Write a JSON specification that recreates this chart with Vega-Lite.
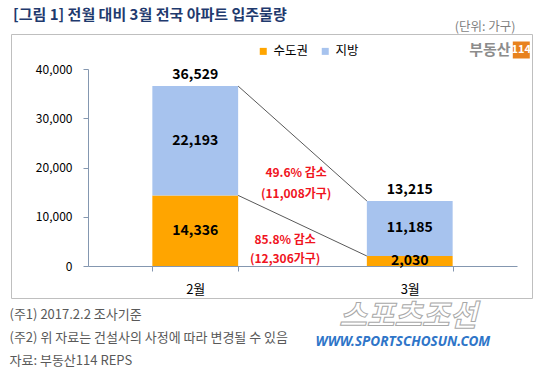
{
  "$schema": "https://vega.github.io/schema/vega-lite/v6.json",
  "width": 521,
  "height": 264,
  "autosize": {"type": "none"},
  "padding": {"left": 11, "top": 34, "right": 8, "bottom": 71},
  "background": "white",
  "config": {
    "font": "Noto Sans CJK KR",
    "view": {"stroke": "#BFBFBF", "strokeWidth": 1},
    "axisY": {"labelExpr": "format(datum.value, ',')"}
  },
  "title": {
    "text": "[그림 1] 전월 대비 3월 전국 아파트 입주물량",
    "anchor": "start",
    "frame": "group",
    "fontSize": 15,
    "fontWeight": "bold",
    "color": "#1F3A6E",
    "dx": 2,
    "dy": 10,
    "offset": 0,
    "baseline": "middle"
  },
  "datasets": {
    "main": [
      {"month": "2월", "region": "수도권", "value": 14336},
      {"month": "2월", "region": "지방", "value": 22193},
      {"month": "3월", "region": "수도권", "value": 2030},
      {"month": "3월", "region": "지방", "value": 11185}
    ],
    "links": [
      {"from": "2월", "to": "3월", "start": 36529, "end": 13215},
      {"from": "2월", "to": "3월", "start": 14336, "end": 2030}
    ]
  },
  "layer": [
    {
      "data": {"name": "main"},
      "mark": {"type": "bar"},
      "encoding": {
        "x": {
          "field": "month",
          "type": "nominal",
          "scale": {"range": [77, 506], "paddingInner": 0.6, "paddingOuter": 0.3},
          "axis": {
            "title": ["(주1) 2017.2.2  조사기준", "(주2) 위 자료는 건설사의 사정에 따라 변경될 수 있음", "자료: 부동산114  REPS"],
            "labelAngle": 0,
            "offset": -32,
            "tickBand": "extent",
            "domainColor": "#8497B0",
            "tickColor": "#8497B0",
            "tickSize": 5,
            "labelFontSize": 13,
            "labelColor": "#000000",
            "labelPadding": 12,
            "titleX": -2,
            "titleY": 42,
            "titleAnchor": "start",
            "titleAlign": "left",
            "titleBaseline": "top",
            "titleFontSize": 13,
            "titleFontWeight": "normal",
            "titleColor": "#595959",
            "titleLineHeight": 23
          }
        },
        "y": {
          "field": "value",
          "type": "quantitative",
          "stack": "zero",
          "scale": {"domain": [0, 40000], "range": [232, 35], "nice": false},
          "axis": {
            "title": "(단위: 가구)",
            "offset": -77,
            "values": [0, 10000, 20000, 30000, 40000],
            "labelExpr": "format(datum.value, ',')",
            "grid": false,
            "domainColor": "#8497B0",
            "tickColor": "#8497B0",
            "tickSize": 5,
            "labelFontSize": 12,
            "labelColor": "#000000",
            "labelPadding": 11,
            "titleAngle": 0,
            "titleX": 427,
            "titleY": -8,
            "titleAlign": "right",
            "titleBaseline": "middle",
            "titleFontSize": 12.5,
            "titleFontWeight": "normal",
            "titleColor": "#7F7F7F"
          }
        },
        "order": {"field": "region", "sort": "ascending"},
        "color": {
          "field": "region",
          "type": "nominal",
          "scale": {"domain": ["수도권", "지방"], "range": ["#FFA500", "#A7C3EE"]},
          "legend": {
            "title": null,
            "orient": "none",
            "direction": "horizontal",
            "legendX": 246,
            "legendY": 11,
            "symbolType": "square",
            "symbolSize": 49,
            "symbolStrokeWidth": 0,
            "labelFontSize": 12.5,
            "labelColor": "#000000",
            "labelOffset": 4,
            "columnPadding": 10
          }
        }
      }
    },
    {
      "data": {"name": "main"},
      "transform": [
        {"stack": "value", "groupby": ["month"], "sort": [{"field": "region"}], "as": ["v0", "v1"]},
        {"calculate": "(datum.v0 + datum.v1) / 2", "as": "mid"}
      ],
      "mark": {"type": "text", "fontSize": 14, "fontWeight": "bold", "color": "#000000", "baseline": "middle"},
      "encoding": {
        "x": {"field": "month", "type": "nominal"},
        "y": {"field": "mid", "type": "quantitative"},
        "text": {"field": "value", "type": "quantitative", "format": ","}
      }
    },
    {
      "data": {"name": "main"},
      "transform": [
        {"aggregate": [{"op": "sum", "field": "value", "as": "total"}], "groupby": ["month"]}
      ],
      "mark": {"type": "text", "fontSize": 14, "fontWeight": "bold", "color": "#000000", "baseline": "middle", "dy": -11},
      "encoding": {
        "x": {"field": "month", "type": "nominal"},
        "y": {"field": "total", "type": "quantitative"},
        "text": {"field": "total", "type": "quantitative", "format": ","}
      }
    },
    {
      "data": {"name": "links"},
      "mark": {"type": "rule", "color": "#595959", "strokeWidth": 1},
      "encoding": {
        "x": {"field": "from", "type": "nominal", "bandPosition": 1},
        "x2": {"field": "to", "bandPosition": 0},
        "y": {"field": "start", "type": "quantitative"},
        "y2": {"field": "end"}
      }
    },
    {
      "data": {"values": [{}]},
      "mark": {"type": "text", "fontSize": 12, "fontWeight": "bold", "color": "#F0141E", "baseline": "middle", "lineHeight": 21, "dx": 58},
      "encoding": {
        "x": {"datum": "2월", "type": "nominal", "bandPosition": 1},
        "y": {"datum": 18884, "type": "quantitative"},
        "text": {"value": ["49.6% 감소", "(11,008가구)"]}
      }
    },
    {
      "data": {"values": [{}]},
      "mark": {"type": "text", "fontSize": 12, "fontWeight": "bold", "color": "#F0141E", "baseline": "middle", "lineHeight": 19, "dx": 47},
      "encoding": {
        "x": {"datum": "2월", "type": "nominal", "bandPosition": 1},
        "y": {"datum": 5279, "type": "quantitative"},
        "text": {"value": ["85.8% 감소", "(12,306가구)"]}
      }
    },
    {
      "data": {"values": [{}]},
      "mark": {"type": "text", "fontSize": 15, "fontWeight": "bold", "color": "#8C8C8C", "baseline": "middle", "align": "right", "dx": 58},
      "encoding": {
        "x": {"datum": "3월", "type": "nominal", "bandPosition": 1},
        "y": {"datum": 43858, "type": "quantitative"},
        "text": {"value": "부동산"}
      }
    },
    {
      "data": {"values": [{}]},
      "mark": {"type": "point", "shape": "square", "filled": true, "size": 289, "color": "#E8821E", "opacity": 1},
      "encoding": {
        "x": {"datum": "3월", "type": "nominal", "bandPosition": 1.8},
        "y": {"datum": 43858, "type": "quantitative"}
      }
    },
    {
      "data": {"values": [{}]},
      "mark": {"type": "text", "fontSize": 11, "fontWeight": "bold", "color": "#FFFFFF", "baseline": "middle", "align": "center"},
      "encoding": {
        "x": {"datum": "3월", "type": "nominal", "bandPosition": 1.8},
        "y": {"datum": 43858, "type": "quantitative"},
        "text": {"value": "114"}
      }
    },
    {
      "data": {"values": [{}]},
      "mark": {"type": "text", "fontSize": 30, "fontWeight": "bold", "fontStyle": "italic", "color": "#FFFFFF", "stroke": "#A8A8A8", "strokeWidth": 1, "baseline": "middle", "align": "center"},
      "encoding": {
        "x": {"datum": "3월", "type": "nominal", "bandPosition": 0.48},
        "y": {"datum": -10356, "type": "quantitative"},
        "text": {"value": "스포츠조선"}
      }
    },
    {
      "data": {"values": [{}]},
      "mark": {"type": "text", "font": "Noto Sans", "fontSize": 13.5, "fontWeight": "bold", "fontStyle": "italic", "color": "#2E75C8", "baseline": "middle", "align": "center"},
      "encoding": {
        "x": {"datum": "3월", "type": "nominal", "bandPosition": 0.42},
        "y": {"datum": -15432, "type": "quantitative"},
        "text": {"value": "WWW.SPORTSCHOSUN.COM"}
      }
    }
  ]
}
